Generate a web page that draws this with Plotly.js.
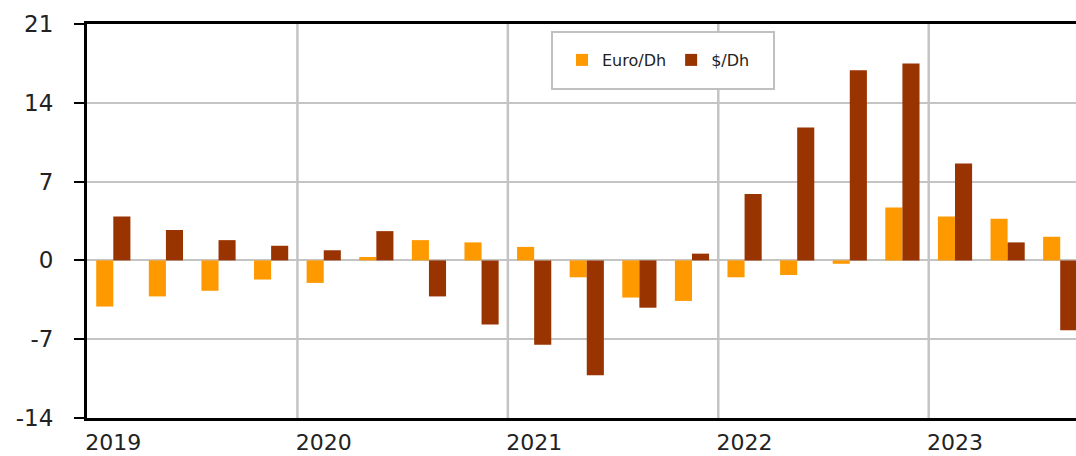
<!DOCTYPE html>
<html>
<head>
<meta charset="utf-8">
<script src="https://cdn.plot.ly/plotly-3.0.1.min.js"></script>
<style>
html,body{margin:0;padding:0;background:#fff;}
#chart{width:1076px;height:456px;}
</style>
</head>
<body>
<div id="chart"></div>
<script>
const quarters = [
  "2019 T1","2019 T2","2019 T3","2019 T4",
  "2020 T1","2020 T2","2020 T3","2020 T4",
  "2021 T1","2021 T2","2021 T3","2021 T4",
  "2022 T1","2022 T2","2022 T3","2022 T4",
  "2023 T1","2023 T2","2023 T3"
];
const euroDh = [-4.1,-3.2,-2.7,-1.7,-2.0,0.3,1.8,1.6,1.2,-1.5,-3.3,-3.6,-1.5,-1.3,-0.3,4.7,3.9,3.7,2.1];
const usdDh  = [3.9,2.7,1.8,1.3,0.9,2.6,-3.2,-5.7,-7.5,-10.2,-4.2,0.6,5.9,11.8,16.9,17.5,8.6,1.6,-6.2];
const yearTickVals = ["2019 T1","2020 T1","2021 T1","2022 T1","2023 T1"];
const yearTickText = ["2019","2020","2021","2022","2023"];
const yTicks = [-14,-7,0,7,14,21];
const yTickText = ["-14","-7","0","7","14","21"];
const yearBoundaries = [3.5,7.5,11.5,15.5];

const grid = "#c4c4c4";
const traces = [
  {type:"bar", name:"Euro/Dh", x:quarters, y:euroDh, marker:{color:"#ff9900"}},
  {type:"bar", name:"$/Dh", x:quarters, y:usdDh, marker:{color:"#993300"}}
];
const shapes = yearBoundaries.map(b => ({
  type:"line", xref:"x", yref:"paper", x0:b, x1:b, y0:0, y1:1,
  line:{color:grid, width:2.5}, layer:"below"
}));
shapes.push({type:"rect", xref:"paper", yref:"paper",
  x0:(552-87)/989, x1:(774-87)/989, y0:(418-89)/394, y1:(418-32)/394,
  line:{color:"#c0c0c0", width:2}, fillcolor:"#ffffff", layer:"below"});

const layout = {
  width:1076, height:456,
  margin:{l:87, r:0, t:24, b:38},
  paper_bgcolor:"#ffffff", plot_bgcolor:"#ffffff",
  font:{family:"DejaVu Sans, Arial, sans-serif", color:"#222"},
  barmode:"group", bargap:0.35, bargroupgap:0,
  showlegend:true,
  legend:{orientation:"h", x:(562-87)/989, xanchor:"left", y:(418-60)/394, yanchor:"middle",
    bgcolor:"rgba(0,0,0,0)", font:{size:16, family:"DejaVu Sans, Arial, sans-serif", color:"#222"},
    itemwidth:30, traceorder:"normal"},
  xaxis:{type:"category", range:[-0.5,18.3], tickvals:yearTickVals, ticktext:yearTickText,
    showgrid:false, zeroline:false, showline:true, linecolor:"#000", linewidth:3, mirror:true,
    ticks:"", tickfont:{size:22}, ticklabelstandoff:3},
  yaxis:{range:[-14,21], tickvals:yTicks, ticktext:yTickText, showgrid:true, gridcolor:grid, gridwidth:2,
    zeroline:true, zerolinecolor:grid, zerolinewidth:2,
    showline:true, linecolor:"#000", linewidth:3, ticks:"outside", ticklen:10, tickwidth:2, tickcolor:"#000",
    tickfont:{size:23}, ticklabelstandoff:16},
  shapes:shapes
};
Plotly.newPlot("chart", traces, layout, {displayModeBar:false, staticPlot:true});
</script>
</body>
</html>
